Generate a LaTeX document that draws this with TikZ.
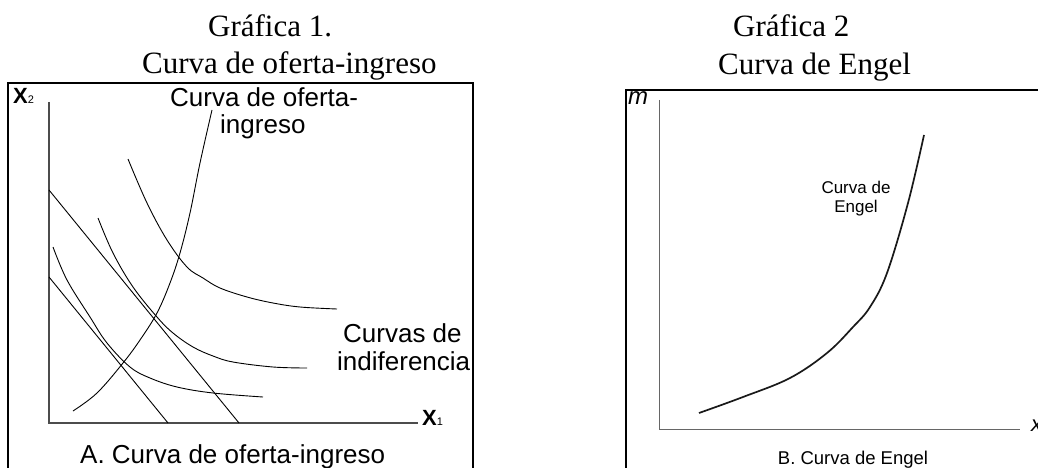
\documentclass[tikz,border=0pt]{standalone}
\usepackage{fontspec}
\setmainfont{Liberation Sans}
\newfontfamily\serifhead{Liberation Serif}
\begin{document}
\begin{tikzpicture}[x=1pt,y=-1pt,
  txt/.style={inner sep=0pt,anchor=base west},
  head/.style={txt,font=\serifhead\fontsize{31}{36}\selectfont},
  big/.style={txt,font=\fontsize{26}{30}\selectfont},
  small/.style={txt,font=\fontsize{17}{20}\selectfont},
  frame/.style={line width=2pt,black},
  axis/.style={line width=1.2pt,black!70},
  curve/.style={line width=0.9pt,black,line join=round},
  engel/.style={line width=1.7pt,black!90,line join=round}]
\useasboundingbox (0,0) rectangle (1038,468);
\clip (0,0) rectangle (1038,468);
% headers
\node[head] (h1a) at (208,37) {Gráfica 1.};
\node[head] (h1b) at (142,74) {Curva de oferta-ingreso};
\node[head] (h2a) at (733,37) {Gráfica 2};
\node[head] (h2b) at (718,75) {Curva de Engel};
% ---------- left panel ----------
\draw[frame] (8,83) rectangle (473,500);
\coordinate (O1) at (49,423);
\coordinate (Y1) at (49,102);
\coordinate (X1e) at (418,423);
\draw[axis] (Y1) -- (O1) -- (X1e);
\node[txt,font=\fontsize{22}{24}\selectfont] (x2lab) at (13,103) {\textbf{X}{\fontsize{11}{12}\selectfont 2}};
\node[txt,font=\fontsize{22}{24}\selectfont] (x1lab) at (422,425) {\textbf{X}{\fontsize{11}{12}\selectfont 1}};
% budget lines
\coordinate (b1a) at (49,277); \coordinate (b1b) at (168,423);
\coordinate (b2a) at (49,190); \coordinate (b2b) at (239,423);
\draw[curve] (b1a) -- (b1b);
\draw[curve] (b2a) -- (b2b);
% indifference curves
\draw[curve] plot[smooth,tension=0.6] coordinates {(53,247) (67,280) (90,317) (107,343) (130,367) (150,378) (177,387) (213,393) (263,397)};
\draw[curve] plot[smooth,tension=0.6] coordinates {(98,218) (113,253) (133,287) (157,317) (173,333) (193,347) (213,356) (233,362) (273,367) (307,368)};
\draw[curve] plot[smooth,tension=0.6] coordinates {(128,159) (147,203) (167,240) (187,267) (203,278) (220,288) (247,297) (273,303) (300,307) (337,309)};
% offer curve
\draw[curve] plot[smooth,tension=0.6] coordinates {(73,411) (97,393) (123,363) (140,340) (157,313) (170,283) (180,253) (190,213) (200,163) (212,110)};
% labels
\node[big] (lo1) at (170,107) {Curva de oferta-};
\node[big] (lo2) at (220,134) {ingreso};
\node[big] (li1) at (343,342) {Curvas de};
\node[big] (li2) at (337,370) {indiferencia};
\node[big] (la) at (80,463) {A. Curva de oferta-ingreso};
% ---------- right panel ----------
\draw[frame] (626,90) rectangle (1060,500);
\coordinate (O2) at (659,429);
\coordinate (Y2) at (659,100);
\coordinate (X2e) at (1020,429);
\draw[axis,line width=0.9pt,black!60] (Y2) -- (O2) -- (X2e);
\node[txt,font=\itshape\fontsize{24}{26}\selectfont] (mlab) at (628,105) {m};
\node[txt,font=\itshape\fontsize{22}{24}\selectfont] (xlab) at (1031,431) {x};
\draw[engel] plot[smooth,tension=0.6] coordinates {(699,413) (743,397) (790,378) (827,353) (853,327) (870,307) (887,273) (908,203) (924,135)};
\node[small,anchor=base] (le1) at (856,193) {Curva de};
\node[small,anchor=base] (le2) at (856,212) {Engel};
\node[txt,anchor=base,font=\fontsize{18.5}{20}\selectfont] (lb) at (853,464) {B. Curva de Engel};
\end{tikzpicture}
\end{document}
